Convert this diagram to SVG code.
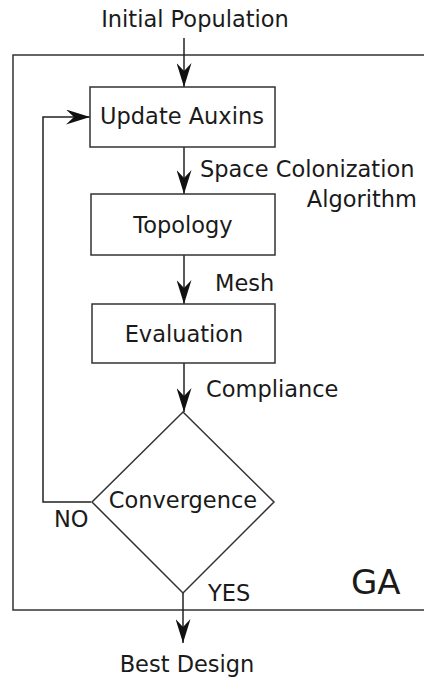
<svg xmlns="http://www.w3.org/2000/svg" width="424" height="678" viewBox="0 0 424 678">
<style>
text{font-family:"DejaVu Sans",Verdana,sans-serif;font-size:22.5px;fill:#1a1a1a}
.box{fill:#fff;stroke:#333;stroke-width:1.5}
.ln{fill:none;stroke:#222;stroke-width:1.5}
</style>
<defs>
<marker id="ah" markerWidth="24" markerHeight="15" refX="24" refY="7.5" viewBox="0 0 24 15" markerUnits="userSpaceOnUse" orient="auto">
<path d="M0,0 L24,7.5 L0,15 L8,7.5 Z" fill="#111"/>
</marker>
</defs>
<rect x="13" y="55" width="420" height="555" fill="none" stroke="#333" stroke-width="1.5"/>
<text x="351" y="594" style="font-size:34px">GA</text>
<g id="connectors">
<path class="ln" d="M184,38 V87" marker-end="url(#ah)"/>
<path class="ln" d="M184,147 V194" marker-end="url(#ah)"/>
<path class="ln" d="M184,255 V304" marker-end="url(#ah)"/>
<path class="ln" d="M184,363 V412" marker-end="url(#ah)"/>
<path class="ln" d="M91,502 H43 V117 H90" marker-end="url(#ah)"/>
<path class="ln" d="M183,593 V643" marker-end="url(#ah)"/>
<text x="200" y="177">Space Colonization</text>
<text x="417" y="207" text-anchor="end">Algorithm</text>
<text x="215" y="291">Mesh</text>
<text x="206" y="397">Compliance</text>
<text x="54" y="527">NO</text>
<text x="208" y="601">YES</text>
</g>
<g id="initial"><text x="195" y="27" text-anchor="middle">Initial Population</text></g>
<g id="update"><rect class="box" x="90" y="87" width="185" height="60"/><text x="182" y="124" text-anchor="middle">Update Auxins</text></g>
<g id="topology"><rect class="box" x="91" y="194" width="184" height="61"/><text x="183" y="233" text-anchor="middle">Topology</text></g>
<g id="evaluation"><rect class="box" x="92" y="304" width="183" height="59"/><text x="184" y="342" text-anchor="middle">Evaluation</text></g>
<g id="convergence"><path class="box" d="M183,412 L274,502 L183,593 L92,502 Z"/><text x="183" y="508" text-anchor="middle">Convergence</text></g>
<g id="best"><text x="187" y="672" text-anchor="middle">Best Design</text></g>
</svg>
